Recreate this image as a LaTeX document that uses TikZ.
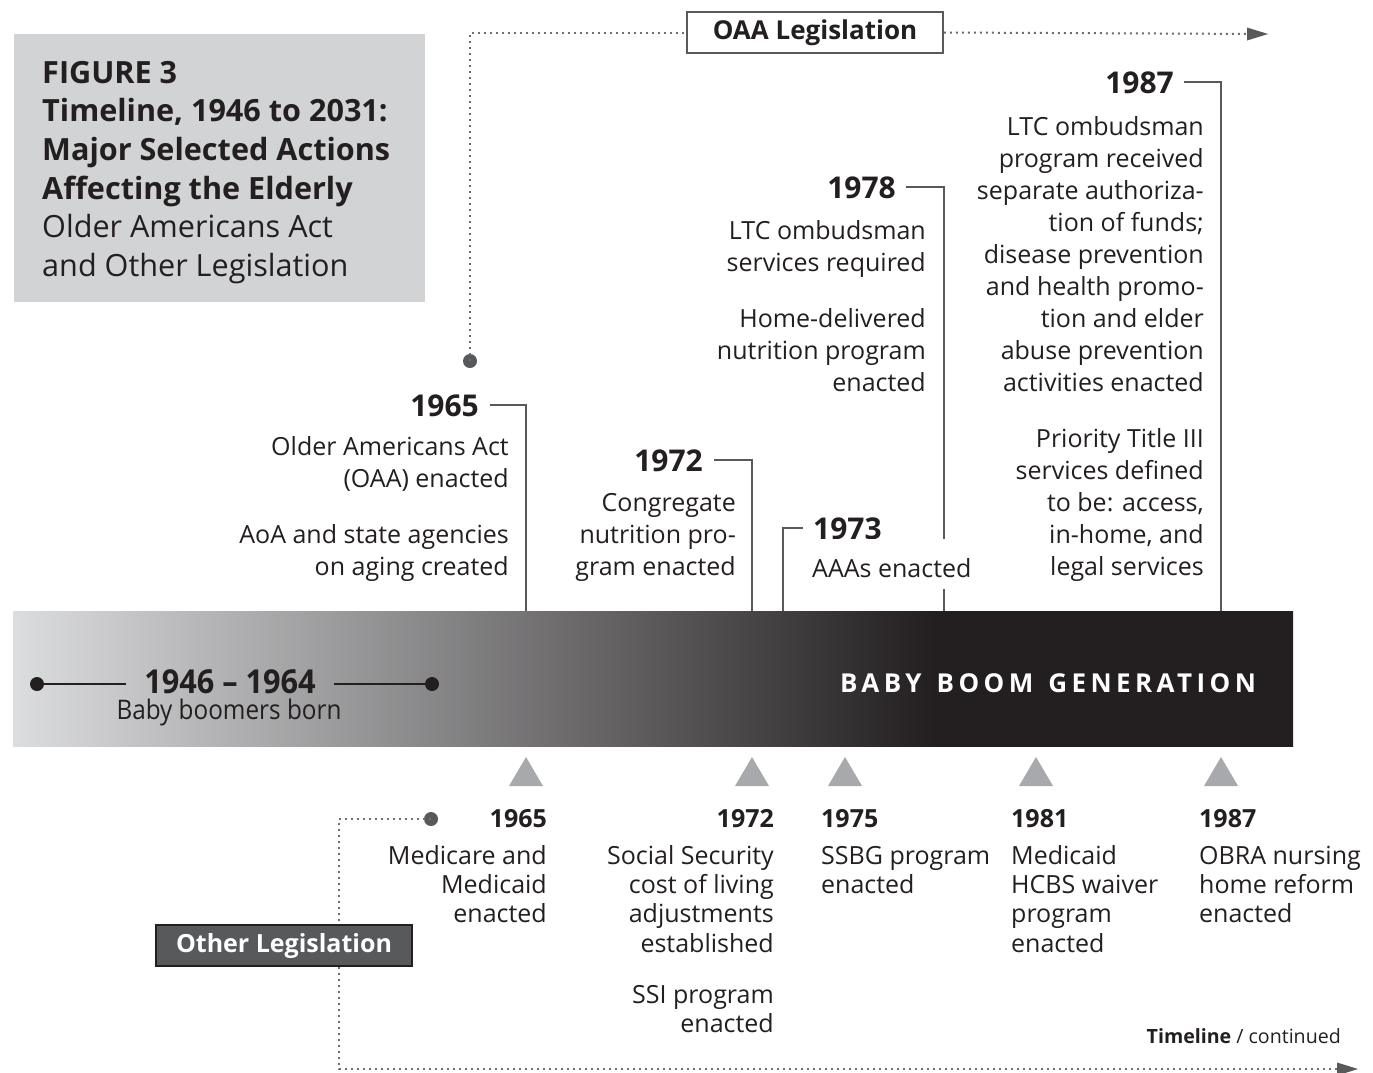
\documentclass[tikz,border=0pt]{standalone}
\usepackage{fontspec}
\setmainfont{Open Sans}
\newfontfamily\condfont[FakeStretch=0.93,Ligatures=TeX]{Open Sans}
\newfontfamily\condlfont[FakeStretch=0.9,Ligatures=TeX]{Open Sans}
\newfontfamily\spacedfont[LetterSpace=17]{Open Sans}
\usetikzlibrary{arrows.meta}
\definecolor{ink}{HTML}{231F20}
\definecolor{titlegray}{HTML}{D1D3D4}
\definecolor{linegray}{HTML}{58595B}
\definecolor{dotgray}{HTML}{6D6E71}
\definecolor{trigray}{HTML}{A7A9AC}
\definecolor{barlight}{HTML}{DCDDDF}
\pgfdeclarehorizontalshading{barshade}{100bp}{color(0bp)=(barlight); color(25bp)=(barlight); color(61bp)=(ink); color(100bp)=(ink)}
\newcommand\bodyf{\fontsize{25}{32}\selectfont}
\newcommand\yearf{\fontsize{30}{36}\selectfont\bfseries}
\newcommand\lbodyf{\fontsize{25}{29.3}\selectfont}
\newcommand\lyearf{\fontsize{25}{30}\selectfont\bfseries}
\tikzset{
  body/.style={font=\bodyf, text=ink, inner sep=0pt, align=right, anchor=north east},
  bodyL/.style={font=\bodyf, text=ink, inner sep=0pt, align=left, anchor=north west},
  lbody/.style={font=\lbodyf, text=ink, inner sep=0pt, align=right, anchor=north east},
  lbodyL/.style={font=\lbodyf, text=ink, inner sep=0pt, align=left, anchor=north west},
  year/.style={font=\yearf, text=ink, inner sep=0pt, anchor=base east},
  yearL/.style={font=\yearf, text=ink, inner sep=0pt, anchor=base west},
  lyear/.style={font=\lyearf, text=ink, inner sep=0pt, anchor=base east},
  lyearL/.style={font=\lyearf, text=ink, inner sep=0pt, anchor=base west},
  conn/.style={draw=linegray, line width=2pt},
  dotline/.style={draw=dotgray, line width=2pt, dash pattern=on 2pt off 4pt},
  gdot/.style={circle, fill=linegray, inner sep=0pt, minimum size=14pt},
  bdot/.style={circle, fill=ink, inner sep=0pt, minimum size=14pt},
  tri/.style={fill=trigray},
}
\begin{document}
\begin{tikzpicture}[x=1pt,y=-1pt]
\useasboundingbox (0,0) rectangle (1373,1072);
\fill[white] (0,0) rectangle (1373,1072);

% title box
\node[fill=titlegray, minimum width=411pt, minimum height=268pt, inner sep=0pt, anchor=north west] (titlebox) at (14,34) {};
\node[anchor=north west, inner sep=0pt, align=left, text=ink, font=\fontsize{30.6}{38.6}\selectfont] (title) at (42,56)
  {\strut\textbf{FIGURE 3}\\\textbf{Timeline, 1946 to 2031:}\\\textbf{Major Selected Actions}\\\textbf{Affecting the Elderly}\\Older Americans Act\\and Other Legislation};

% OAA legislation
\node[draw=linegray, line width=1.5pt, fill=white, minimum width=256pt, minimum height=41pt, inner sep=0pt, font=\fontsize{26}{30}\selectfont\bfseries, text=ink] (oaa) at (815,32.5) {OAA Legislation};
\node[gdot] (oaadot) at (470,361) {};
\coordinate (oaaend) at (1268,34);
\draw[dotline] (oaadot.center) |- (oaa.west);
\draw[dotline] (oaa.east) -- (oaaend);
\fill[linegray] (oaaend) -- ++(-21,-6.5) -- ++(0,13) -- cycle;

% bar
\shade[shading=barshade] (13,611) rectangle (1293,746);
\coordinate (b65) at (526,611);
\coordinate (b72) at (752,611);
\coordinate (b73) at (783,611);
\coordinate (b78) at (944,611);
\coordinate (b87) at (1221,611);

% baby boomers born
\node[font=\condfont\fontsize{33}{36}\selectfont\bfseries, text=ink, inner xsep=18pt, inner ysep=0pt] (bbyears) at (230,682) {1946 – 1964};
\node[font=\condlfont\fontsize{27}{30}\selectfont, text=ink, inner sep=0pt] (bbborn) at (229,712) {Baby boomers born};
\node[bdot] (d1) at (37,684) {};
\node[bdot] (d2) at (432,684) {};
\draw[draw=ink, line width=2pt] (d1.center) -- (d1 -| bbyears.west);
\draw[draw=ink, line width=2pt] (d2.center) -- (d2 -| bbyears.east);
\node[font=\spacedfont\fontsize{26}{30}\selectfont\bfseries, text=white, inner sep=0pt] (bbg) at (1048,683) {BABY\hspace{15pt}BOOM\hspace{15pt}GENERATION};

% upper events
\node[year] (y65) at (479,416) {1965};
\node[body] (t65) at (509,432.6) {\strut Older Americans Act\\(OAA) enacted\\[24pt]AoA and state agencies\\on aging created};
\draw[conn] ([xshift=11pt]y65.east) -| (b65);

\node[year] (y72) at (703,471) {1972};
\node[body] (t72) at (736,488.6) {\strut Congregate\\nutrition pro-\\gram enacted};
\draw[conn] ([xshift=11pt]y72.east) -| (b72);

\node[year] (y78) at (896,198) {1978};
\node[body] (t78) at (926,216.6) {\strut LTC ombudsman\\services required\\[24pt]Home-delivered\\nutrition program\\enacted};

\node[yearL] (y73) at (813,539) {1973};
\node[bodyL, fill=white, inner ysep=0pt] (t73) at (812,539) {\strut\rule{0pt}{38pt}AAAs enacted\rule[-12pt]{0pt}{12pt}};
\draw[conn] ([xshift=-10pt]y73.west) -| (b73);
\draw[conn] ([xshift=10pt]y78.east) -| (t73.north -| b78);
\draw[conn] (t73.south -| b78) -- (b78);

\node[year] (y87) at (1174,93) {1987};
\node[body] (t87) at (1204,112.6) {\strut LTC ombudsman\\program received\\separate authoriza-\\tion of funds;\\disease prevention\\and health promo-\\tion and elder\\abuse prevention\\activities enacted\\[24pt]Priority Title III\\services defined\\to be: access,\\in-home, and\\legal services};
\draw[conn] ([xshift=10pt]y87.east) -| (b87);

% triangles
\foreach \x in {526,752,845,1036,1221}{
  \fill[tri] (\x,757) -- (\x+17,786) -- (\x-17,786) -- cycle;
}

% lower events
\node[lyear] (l65) at (547,827) {1965};
\node[lbody] (m65) at (547,843.5) {\strut Medicare and\\Medicaid\\enacted};
\node[lyear] (l72) at (774,827) {1972};
\node[lbody] (m72) at (774,843.5) {\strut Social Security\\cost of living\\adjustments\\established\\[22pt]SSI program\\enacted};
\node[lyearL] (l75) at (821,827) {1975};
\node[lbodyL] (m75) at (821,843.5) {\strut SSBG program\\enacted};
\node[lyearL] (l81) at (1011,827) {1981};
\node[lbodyL] (m81) at (1011,843.5) {\strut Medicaid\\HCBS waiver\\program\\enacted};
\node[lyearL] (l87) at (1199,827) {1987};
\node[lbodyL] (m87) at (1199,843.5) {\strut OBRA nursing\\home reform\\enacted};

% other legislation
\node[gdot] (oldot) at (431,819) {};
\coordinate (olcorner) at (339,1069);
\coordinate (olend) at (1358,1069);
\draw[dotline] (oldot.center) -| (olcorner) -- (olend);
\fill[linegray] (olend) -- ++(-21,-6.5) -- ++(0,13) -- cycle;
\node[draw=ink, line width=1.5pt, fill=linegray, minimum width=256pt, minimum height=41pt, inner sep=0pt, font=\fontsize{25}{30}\selectfont\bfseries, text=white] (other) at (284,945.5) {Other Legislation};

% continued
\node[anchor=base east, inner sep=0pt, font=\fontsize{19.6}{24}\selectfont, text=ink] (cont) at (1341,1043) {\textbf{Timeline} / continued};
\end{tikzpicture}
\end{document}
